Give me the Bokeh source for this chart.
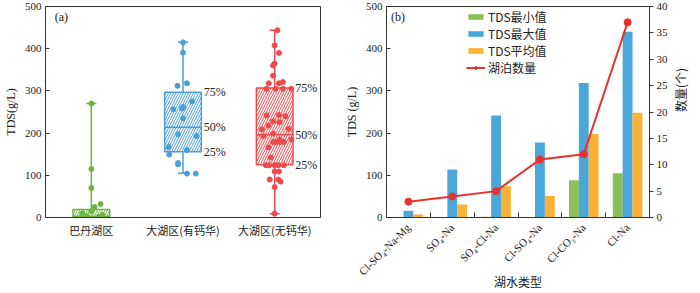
import numpy as np
from bokeh.plotting import figure
from bokeh.models import (FixedTicker, LinearAxis, Range1d, Legend, LegendItem,
                          ColumnDataSource, Label)
from bokeh.layouts import row
from bokeh.embed import file_html
from bokeh.resources import INLINE
from bokeh.core.properties import value

SERIF = "Liberation Serif"
CJK = "Noto Sans CJK SC"

# ---------------- panel (a) data ----------------
groups_a = ["巴丹湖区", "大湖区(有钙华)", "大湖区(无钙华)"]
q1_a = [0, 156, 125]
median_a = [3, 214, 196]
q3_a = [19, 297, 307]
whisk_lo_a = [0, 105, 9]
whisk_hi_a = [270, 415, 444]
colors_a = ["#6DB33F", "#4A9FD8", "#EE4A4C"]

pts_badan = [270, 115, 70, 32, 25, 15, 10, 6, 3, 1]
jit_badan = [0, 0, 0, 0.10, 0.035, 0.0, -0.1, 0.12, -0.05, 0.08]

pts_calc = [415, 391, 312, 318, 275, 262, 258, 256, 235, 197, 193, 167, 160,
            149, 129, 126, 104, 104]
jit_calc = [0, 0, -0.06, 0.043, 0.10, 0.0, -0.01, -0.104, 0.0, -0.054, 0.146,
            -0.157, 0.043, -0.15, -0.054, -0.054, 0.043, 0.139]

pts_nocalc = [444, 408, 390, 365, 360, 336, 318, 318, 321, 305, 305, 305, 305,
              242, 243, 240, 228, 226, 218, 209, 210, 199, 193, 185, 185, 179,
              179, 179, 179, 166, 142, 124, 124, 124, 124, 124, 109, 109, 90,
              90, 85, 72, 9]
jit_nocalc = [0.03, 0.0, 0.047, 0.0, -0.017, -0.017, -0.064, 0.047, 0.09,
              -0.089, 0.011, 0.09, 0.182, -0.089, 0.047, 0.118, -0.017, 0.054,
              -0.068, -0.139, 0.154, -0.017, -0.124, 0.054, 0.182, -0.017,
              0.011, 0.054, 0.1, -0.068, -0.043, -0.096, -0.06, 0.0, 0.04, 0.1,
              0.0, 0.047, -0.054, 0.04, 0.064, 0.0, 0.0]

pct_labels = ["25%", "50%", "75%"]

# ---------------- panel (b) data ----------------
types_b = ["Cl-SO₄-Na-Mg", "SO₄-Na", "SO₄-Cl-Na", "Cl-SO₄-Na", "Cl-CO₃-Na", "Cl-Na"]
tds_min = [0, 1, 2, 0, 88, 105]
tds_max = [16, 114, 242, 178, 319, 440]
tds_mean = [7, 31, 74, 51, 198, 248]
lake_count = [3, 4, 5, 11, 12, 37]

C_MIN = "#8BC056"
C_MAX = "#4BA6DA"
C_MEAN = "#F9B233"
C_CNT = "#E8302E"
AX = "#333333"

H = 293
TOP = 6
BOTTOM = 76


def style_axis(ax, size="11px"):
    ax.axis_line_color = AX
    ax.major_tick_line_color = AX
    ax.minor_tick_line_color = None
    ax.major_label_text_font = SERIF
    ax.major_label_text_font_size = size
    ax.major_label_text_color = "#222222"
    ax.axis_label_text_font_style = "normal"
    ax.axis_label_text_font_size = "12px"
    ax.axis_label_text_color = "#222222"


# ================= figure (a) =================
p1 = figure(width=338, height=H, x_range=Range1d(0, 3), y_range=Range1d(0, 500),
            output_backend="svg", toolbar_location=None,
            min_border_left=40, min_border_right=18, min_border_top=TOP,
            min_border_bottom=BOTTOM)
p1.grid.visible = False
p1.outline_line_color = AX
p1.background_fill_color = "white"

cx = np.arange(3) + 0.5
style_axis(p1.xaxis[0], "11px")
p1.xaxis.ticker = FixedTicker(ticks=list(cx))
p1.xaxis.major_label_overrides = {float(c): g for c, g in zip(cx, groups_a)}
p1.xaxis.major_label_text_font = CJK
p1.xaxis.major_tick_line_color = None
p1.xaxis.major_tick_in = 0
p1.xaxis.major_tick_out = 0
p1.xaxis.major_label_standoff = 4
style_axis(p1.yaxis[0])
p1.yaxis.ticker = FixedTicker(ticks=list(range(0, 501, 100)))
p1.yaxis.major_tick_in = 4
p1.yaxis.major_tick_out = 0
p1.yaxis.major_label_standoff = 4
p1.yaxis.axis_label = "TDS(g/L)"
p1.yaxis.axis_label_text_font = SERIF
p1.yaxis.axis_label_standoff = 4

# whiskers
p1.segment(x0=cx, x1=cx, y0=whisk_lo_a, y1=whisk_hi_a, line_color=colors_a, line_width=1.5)
cap = 0.055
p1.segment(x0=cx - cap, x1=cx + cap, y0=whisk_hi_a, y1=whisk_hi_a, line_color=colors_a, line_width=1.5)
p1.segment(x0=cx - cap, x1=cx + cap, y0=whisk_lo_a, y1=whisk_lo_a, line_color=colors_a, line_width=1.5)
# boxes
box_src = ColumnDataSource(dict(x=cx, b=q1_a, t=q3_a, c=colors_a))
p1.vbar(x="x", bottom="b", top="t", width=0.4, source=box_src, fill_color="white",
        line_color="c", line_width=1.5, hatch_pattern="/", hatch_color="c",
        hatch_scale=5, hatch_weight=1)
p1.segment(x0=cx - 0.2, x1=cx + 0.2, y0=median_a, y1=median_a, line_color=colors_a, line_width=1.5)

# points
for i, (pts, jit) in enumerate([(pts_badan, jit_badan), (pts_calc, jit_calc),
                                (pts_nocalc, jit_nocalc)]):
    p1.scatter(x=cx[i] + np.array(jit), y=pts, size=5, marker="circle",
               fill_color=colors_a[i], line_color=colors_a[i])

# percentile labels for the two big groups
for i in (1, 2):
    p1.text(x=[cx[i] + 0.225] * 3, y=[q1_a[i], median_a[i], q3_a[i]], text=pct_labels,
            text_font=value(SERIF), text_font_size="12px", text_baseline="middle",
            text_align="left", text_color="#222222")

p1.add_layout(Label(x=0.1, y=474, text="(a)", text_font=SERIF, text_font_size="12px",
                    text_baseline="middle", text_color="#222222"))

# ================= figure (b) =================
p2 = figure(width=362, height=H, x_range=Range1d(0, 6), y_range=Range1d(0, 500),
            output_backend="svg", toolbar_location=None,
            min_border_left=48, min_border_right=44, min_border_top=TOP,
            min_border_bottom=BOTTOM)
p2.grid.visible = False
p2.outline_line_color = AX
p2.extra_y_ranges = {"cnt": Range1d(0, 40)}

bx = np.arange(6) + 0.5
bw = 0.225
style_axis(p2.xaxis[0])
p2.xaxis.ticker = FixedTicker(ticks=list(bx), minor_ticks=[1, 2, 3, 4, 5])
p2.xaxis.major_label_overrides = {float(c): t for c, t in zip(bx, types_b)}
p2.xaxis.major_label_orientation = np.pi / 4
p2.xaxis.major_tick_line_color = None
p2.xaxis.minor_tick_line_color = AX
p2.xaxis.minor_tick_in = 5
p2.xaxis.minor_tick_out = 0
p2.xaxis.major_label_standoff = 2
p2.xaxis.axis_label = "湖水类型"
p2.xaxis.axis_label_text_font = CJK
p2.xaxis.axis_label_standoff = -12

style_axis(p2.yaxis[0])
p2.yaxis.ticker = FixedTicker(ticks=list(range(0, 501, 100)))
p2.yaxis.major_tick_in = 4
p2.yaxis.major_tick_out = 0
p2.yaxis.major_label_standoff = 4
p2.yaxis.axis_label = "TDS (g/L)"
p2.yaxis.axis_label_text_font = SERIF
p2.yaxis.axis_label_standoff = 4

rax = LinearAxis(y_range_name="cnt", axis_label="数量(个)",
                 ticker=FixedTicker(ticks=list(range(0, 41, 5))))
style_axis(rax)
rax.major_tick_in = 0
rax.major_tick_out = 4
rax.major_label_standoff = 3
rax.axis_label_text_font = CJK
rax.axis_label_standoff = 10
rax.axis_label_orientation = np.pi / 2
p2.add_layout(rax, "right")

r_min = p2.vbar(x=bx - bw, top=tds_min, width=bw, fill_color=C_MIN, line_color=None)
r_max = p2.vbar(x=bx, top=tds_max, width=bw, fill_color=C_MAX, line_color=None)
r_mean = p2.vbar(x=bx + bw, top=tds_mean, width=bw, fill_color=C_MEAN, line_color=None)
r_line = p2.line(x=bx, y=lake_count, y_range_name="cnt", line_color=C_CNT, line_width=2)
r_pts = p2.scatter(x=bx, y=lake_count, y_range_name="cnt", size=7, marker="circle",
                   fill_color=C_CNT, line_color=C_CNT)

frame_h = H - TOP - BOTTOM
legend = Legend(items=[
    LegendItem(label="TDS最小值", renderers=[r_min]),
    LegendItem(label="TDS最大值", renderers=[r_max]),
    LegendItem(label="TDS平均值", renderers=[r_mean]),
    LegendItem(label="湖泊数量", renderers=[r_line, r_pts]),
], location=(80, frame_h - 3 - 67), glyph_width=19, glyph_height=7, label_height=17,
    spacing=0, padding=0, margin=0, label_standoff=3,
    label_text_font=CJK, label_text_font_size="12px", label_text_color="#222222",
    background_fill_alpha=0, border_line_alpha=0)
p2.add_layout(legend)

p2.add_layout(Label(x=0.1, y=474, text="(b)", text_font=SERIF, text_font_size="12px",
                    text_baseline="middle", text_color="#222222"))

layout = row(p1, p2)
open("out.html", "w").write(file_html(layout, INLINE))
